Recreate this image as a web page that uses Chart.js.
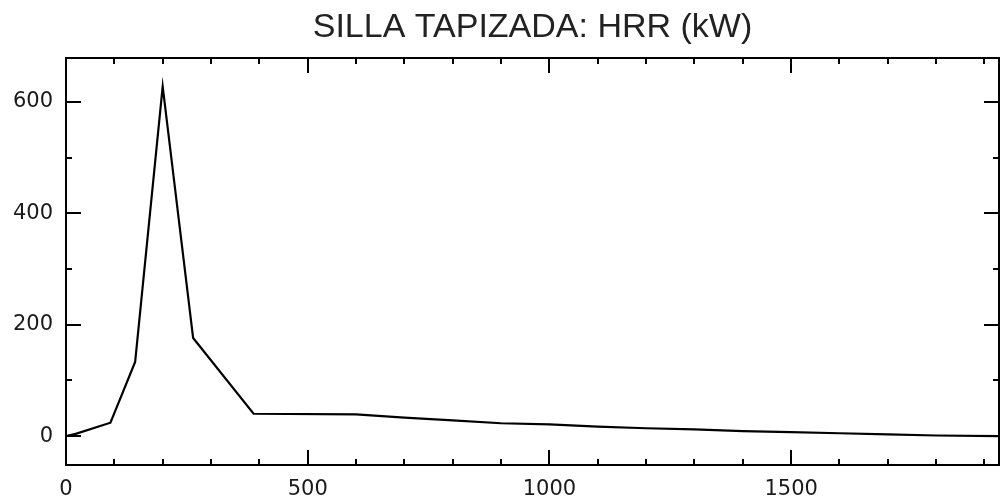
<!DOCTYPE html>
<html>
<head>
<meta charset="utf-8">
<script src="https://cdn.jsdelivr.net/npm/chart.js@4/dist/chart.umd.min.js"></script>
<style>
  html, body { margin: 0; padding: 0; background: #fff; }
  #wrap { width: 1001px; height: 502px; }
</style>
</head>
<body>
<div id="wrap"><canvas id="hrrChart" width="1001" height="502"></canvas></div>
<script>
// tiempo (s) y HRR (kW)
const tiempo = [0, 20, 92, 143, 200, 263, 388, 600, 700, 800, 900, 1000, 1100, 1200, 1300, 1400, 1500, 1600, 1700, 1800, 1930];
const hrr = [0, 4, 24, 133, 628, 176, 40, 39, 33, 28, 23, 21, 17, 14, 12, 9, 7, 5, 3, 1, 0];
const xTicks = [0, 500, 1000, 1500];
const yTicks = [0, 200, 400, 600];
const titulo = 'SILLA TAPIZADA: HRR (kW)';

const puntos = tiempo.map((t, i) => ({ x: t, y: hrr[i] }));

// titulo centrado sobre el area del grafico
const tituloPlugin = {
    id: 'tituloArea',
    afterDraw(chart) {
        const ctx = chart.ctx;
        const area = chart.chartArea;
        ctx.save();
        ctx.fillStyle = '#222';
        ctx.font = '34px "Liberation Sans", Arial, sans-serif';
        ctx.textAlign = 'center';
        ctx.textBaseline = 'alphabetic';
        ctx.fillText(titulo, (area.left + area.right) / 2, 37);
        ctx.restore();
    }
};

// marco y marcas hacia adentro (estilo del grafico original)
const marcoPlugin = {
    id: 'marco',
    afterDraw(chart) {
        const ctx = chart.ctx;
        const area = chart.chartArea;
        const xs = chart.scales.x;
        const ys = chart.scales.y;
        ctx.save();
        ctx.strokeStyle = '#000';
        ctx.lineWidth = 2;
        ctx.strokeRect(area.left, area.top, area.right - area.left, area.bottom - area.top);
        ctx.beginPath();
        for (let v = 0; v <= xs.max; v += 100) {
            const px = Math.round(xs.getPixelForValue(v));
            const len = v % 500 === 0 ? 15 : 6;
            ctx.moveTo(px, area.bottom);
            ctx.lineTo(px, area.bottom - len);
            ctx.moveTo(px, area.top);
            ctx.lineTo(px, area.top + len);
        }
        for (let v = 0; v <= ys.max; v += 100) {
            const py = Math.round(ys.getPixelForValue(v));
            const len = v % 200 === 0 ? 15 : 6;
            ctx.moveTo(area.left, py);
            ctx.lineTo(area.left + len, py);
            ctx.moveTo(area.right, py);
            ctx.lineTo(area.right - len, py);
        }
        ctx.stroke();
        ctx.restore();
    }
};

const fuenteTicks = { family: '"DejaVu Sans", sans-serif', size: 21 };

const ctx = document.getElementById('hrrChart').getContext('2d');
new Chart(ctx, {
    type: 'scatter',
    data: {
        datasets: [{
            data: puntos,
            showLine: true,
            borderColor: '#000',
            borderWidth: 2.2,
            pointRadius: 0,
            tension: 0
        }]
    },
    options: {
        responsive: false,
        animation: false,
        layout: { padding: { left: 0, right: 2, top: 58, bottom: 0 } },
        plugins: {
            legend: { display: false },
            tooltip: { enabled: false },
            title: { display: false }
        },
        scales: {
            x: {
                type: 'linear',
                min: 0,
                max: 1930,
                grid: { display: false },
                border: { display: false },
                afterBuildTicks: (s) => { s.ticks = xTicks.map(v => ({ value: v })); },
                afterFit: (s) => { s.height = 37; },
                ticks: {
                    padding: 4,
                    maxRotation: 0,
                    color: '#1a1a1a',
                    font: fuenteTicks,
                    callback: (v) => String(v)
                }
            },
            y: {
                type: 'linear',
                min: -52,
                max: 679,
                grid: { display: false },
                border: { display: false },
                afterBuildTicks: (s) => { s.ticks = yTicks.map(v => ({ value: v })); },
                afterFit: (s) => { s.width = 66; },
                ticks: {
                    padding: 5,
                    color: '#1a1a1a',
                    font: fuenteTicks,
                    callback: (v) => String(v)
                }
            }
        }
    },
    plugins: [marcoPlugin, tituloPlugin]
});
</script>
</body>
</html>
